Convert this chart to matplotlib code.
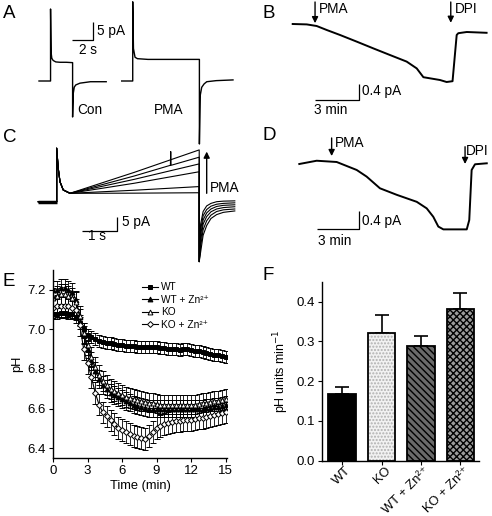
import numpy as np
import matplotlib.pyplot as plt

plt.rcParams['font.family'] = ['Liberation Sans', 'DejaVu Sans']
plt.rcParams['font.size'] = 9

W, H = 492, 516

# ---------------- data ----------------
# A: whole-cell currents (s, pA), control and PMA
a_con_t = [0, 1.1, 1.1, 1.15, 1.22, 1.35, 1.6, 2.0, 2.6, 3.2, 3.2, 3.26, 3.36, 3.5, 3.9, 4.9, 6.4]
a_con_i = [0, 0, 20, 8.0, 6.3, 5.7, 5.3, 5.2, 5.2, 5.1, -10, -3.5, -1.7, -1.1, -0.6, -0.2, -0.2]
a_pma_t = [0, 1.05, 1.05, 1.12, 1.27, 1.5, 2.5, 4, 5.5, 7.4, 7.4, 7.48, 7.62, 7.85, 8.1, 9, 10.6]
a_pma_i = [0, 0, 22, 9, 6.6, 6.2, 6.0, 6.0, 6.0, 6.0, -17.5, -4, -1.75, -0.8, -0.2, 0.1, 0.3]

# B, D: slow current recordings (min, pA)
b_t = [0, 0.95, 1.62, 2.3, 3.2, 4.32, 5.45, 6.57, 7.7, 8.38, 8.83, 9.95, 10.4, 10.8, 11.08, 11.19, 11.76, 13.1]
b_i = [0, -0.01, -0.05, -0.15, -0.275, -0.44, -0.61, -0.775, -0.94, -1.11, -1.33, -1.4, -1.45, -1.43,
       -0.275, -0.23, -0.2, -0.22]
d_t = [0, 1.24, 2.67, 4.1, 4.81, 5.76, 6.96, 8.39, 9.1, 9.57, 9.93, 10.29, 11.96, 12.14, 12.31, 12.55, 13.39]
d_i = [0, 0.07, 0.043, -0.128, -0.27, -0.52, -0.66, -0.81, -0.95, -1.13, -1.34, -1.4, -1.4, -1.2,
       -0.128, -0.006, 0.015]

# C: family of currents during PMA (s, pA)
c_on_t = [0, 0.516, 0.516, 0.56, 0.61, 0.70, 0.89]
c_on_i = [0, 0, 19.1, 11.9, 7.1, 4.2, 3.0]
c_mid_t, c_end_t = 2.7, 4.52
c_mid_i = [10.5, 9.2, 8.0, 6.6, 4.1, 3.05]
c_end_i = [18.5, 15.9, 13.5, 10.7, 5.4, 3.2]
c_tail_t = [4.52, 4.56, 4.63, 4.73, 4.85, 5.01, 5.2, 5.52]
c_tails = [
    [-21.4, -8, -3.5, -1.5, -0.6, 0, 0.2, 0.3],
    [-21.4, -10, -5, -2.8, -1.6, -0.9, -0.6, -0.4],
    [-21.4, -12, -6.5, -4.0, -2.6, -1.7, -1.3, -1.1],
    [-21.4, -14, -8, -5.3, -3.6, -2.6, -2.1, -1.8],
    [-21.4, -16, -10, -6.8, -4.8, -3.5, -2.9, -2.6],
    [-21.4, -18, -12, -8.5, -6.0, -4.6, -3.8, -3.3],
]

# E: pH time course, samples every 20 s
time_min = np.arange(46) / 3
ph_wt = [7.08, 7.08, 7.085, 7.085, 7.08, 7.08, 7.06, 7.03, 7.00, 6.97, 6.96, 6.95, 6.94, 6.935, 6.93,
         6.93, 6.925, 6.92, 6.92, 6.915, 6.915, 6.915, 6.91, 6.91, 6.91, 6.91, 6.91, 6.91, 6.905, 6.905,
         6.90, 6.90, 6.90, 6.895, 6.90, 6.90, 6.895, 6.89, 6.89, 6.885, 6.88, 6.875, 6.87, 6.87, 6.865, 6.86]
ph_wt_zn = [7.20, 7.20, 7.21, 7.21, 7.20, 7.19, 7.15, 7.06, 6.97, 6.90, 6.84, 6.79, 6.75, 6.72, 6.70,
            6.68, 6.67, 6.66, 6.65, 6.64, 6.63, 6.62, 6.615, 6.61, 6.605, 6.60, 6.60, 6.60, 6.60, 6.60,
            6.60, 6.60, 6.60, 6.60, 6.60, 6.60, 6.60, 6.60, 6.60, 6.60, 6.605, 6.605, 6.61, 6.61, 6.615, 6.62]
ph_ko = [7.16, 7.17, 7.18, 7.18, 7.17, 7.16, 7.14, 7.07, 6.98, 6.92, 6.86, 6.81, 6.77, 6.74, 6.72,
         6.70, 6.69, 6.68, 6.67, 6.66, 6.655, 6.65, 6.645, 6.64, 6.635, 6.63, 6.63, 6.625, 6.62, 6.62,
         6.62, 6.62, 6.62, 6.62, 6.62, 6.62, 6.62, 6.62, 6.625, 6.63, 6.63, 6.635, 6.64, 6.64, 6.645, 6.65]
ph_ko_zn = [7.11, 7.12, 7.12, 7.12, 7.12, 7.11, 7.10, 7.02, 6.90, 6.83, 6.76, 6.68, 6.62, 6.58, 6.56,
            6.54, 6.52, 6.50, 6.49, 6.48, 6.47, 6.46, 6.455, 6.45, 6.445, 6.46, 6.48, 6.50, 6.51, 6.52,
            6.525, 6.53, 6.535, 6.535, 6.54, 6.54, 6.54, 6.545, 6.55, 6.55, 6.555, 6.56, 6.565, 6.57, 6.575, 6.58]
err_wt, err_wt_zn, err_ko, err_ko_zn = 0.03, 0.045, 0.05, 0.055

# F: acidification rate
groups = ['WT', 'KO', 'WT + Zn²⁺', 'KO + Zn²⁺']
rates = [0.168, 0.321, 0.288, 0.381]
rate_err = [0.017, 0.046, 0.025, 0.041]


# ---------------- helpers ----------------
fig = plt.figure(figsize=(W / 100, H / 100), dpi=100)


def px_axes(x0, y0, x1, y1):
    return fig.add_axes([x0 / W, 1 - y1 / H, (x1 - x0) / W, (y1 - y0) / H])


def trace_axes(box, origin, sx, sy):
    # box in pixels, origin = pixel of (0, 0), sx/sy = pixels per unit
    x0, y0, x1, y1 = box
    ax = px_axes(x0, y0, x1, y1)
    ax.set_xlim((x0 - origin[0]) / sx, (x1 - origin[0]) / sx)
    ax.set_ylim((origin[1] - y1) / sy, (origin[1] - y0) / sy)
    ax.axis('off')
    return ax


def ftext(x, y, s, **kw):
    kw.setdefault('va', 'center')
    kw.setdefault('fontsize', 9.8)
    fig.text(x / W, 1 - y / H, s, **kw)


def scalebar(ax, x, y, dx, dy):
    ax.plot([x - dx, x, x], [y, y, y + dy], color='k', lw=0.9, solid_capstyle='butt')


def arrow(ax, tip, tail):
    ax.annotate('', xy=tip, xytext=tail,
                arrowprops=dict(arrowstyle='-|>', color='k', lw=1.0, mutation_scale=9,
                                shrinkA=0, shrinkB=0))


# ---------------- A ----------------
ax = trace_axes((30, 0, 245, 148), (39, 81), 10.5, 3.6)
ax.plot(a_con_t, a_con_i, color='k', lw=1.0)
ax.plot(np.array(a_pma_t) + 7.876, a_pma_i, color='k', lw=1.0)
scalebar(ax, 5.11, 11.47, 2, 5)
ftext(97, 31, '5 pA')
ftext(88, 50, '2 s', ha='center')
ftext(77, 110, 'Con')
ftext(154, 110.5, 'PMA')

# ---------------- B ----------------
ax = trace_axes((285, 0, 492, 125), (292.7, 24), 14.8, 40)
ax.plot(b_t, b_i, color='k', lw=1.4)
arrow(ax, (1.51, 0.02), (1.51, 0.55))
arrow(ax, (10.68, 0.03), (10.68, 0.55))
scalebar(ax, 4.5, -1.9, 3, 0.4)
ftext(319, 9, 'PMA')
ftext(455, 9, 'DPI')
ftext(362, 91, '0.4 pA')
ftext(314, 110.5, '3 min')

# ---------------- C ----------------
ax = trace_axes((30, 136, 245, 268), (38.3, 201.7), 35.6, 2.8)
ax.plot(c_on_t[:2], c_on_i[:2], color='k', lw=2.5, solid_capstyle='butt')
for k in range(6):
    tt = c_on_t + [c_mid_t, c_end_t] + c_tail_t
    ii = c_on_i + [c_mid_i[k], c_end_i[k]] + c_tails[k]
    if k == 1:
        tt = tt[:8] + [3.71, 3.72, 3.73] + tt[8:]
        ii = ii[:8] + [13.0, 17.9, 13.0] + ii[8:]
    ax.plot(tt, ii, color='k', lw=0.8)
arrow(ax, (4.73, 17.9), (4.73, 3.0))
scalebar(ax, 2.22, -10.36, 1, 5)
ftext(210, 188, 'PMA')
ftext(122, 222, '5 pA')
ftext(97.5, 236, '1 s', ha='center')

# ---------------- D ----------------
ax = trace_axes((285, 128, 492, 250), (299.3, 164), 14, 46.7)
ax.plot(d_t, d_i, color='k', lw=1.4)
arrow(ax, (2.31, 0.17), (2.31, 0.557))
arrow(ax, (11.84, 0.0), (11.84, 0.37))
scalebar(ax, 4.29, -1.4, 3, 0.4)
ftext(335, 143, 'PMA')
ftext(466, 151, 'DPI')
ftext(362, 220.5, '0.4 pA')
ftext(318, 241, '3 min')

# ---------------- E ----------------
ax = px_axes(53, 270, 227.3, 458)
series = [
    (ph_wt, err_wt, 's', 'k', 'WT'),
    (ph_wt_zn, err_wt_zn, '^', 'k', 'WT + Zn²⁺'),
    (ph_ko, err_ko, '^', 'w', 'KO'),
    (ph_ko_zn, err_ko_zn, 'D', 'w', 'KO + Zn²⁺'),
]
for vals, err, mk, mfc, lab in series:
    ax.errorbar(time_min, vals, yerr=err, color='k', lw=0.8, marker=mk, mfc=mfc, mec='k',
                ms=3.5 if mk != 'D' else 3, mew=0.7, elinewidth=0.6, capsize=2.5, capthick=0.6,
                label=lab)
ax.set_xlim(0, 15.15)
ax.set_ylim(6.35, 7.3)
ax.set_xticks([0, 3, 6, 9, 12, 15])
ax.set_yticks([6.4, 6.6, 6.8, 7.0, 7.2])
ax.set_yticklabels(['6.4', '6.6', '6.8', '7.0', '7.2'])
ax.set_xlabel('Time (min)', fontsize=9.3, labelpad=2)
ax.set_ylabel('pH', fontsize=9.3, labelpad=3)
h, l = ax.get_legend_handles_labels()
h = [x[0] for x in h]
ax.legend(h, l, loc='upper left', bbox_to_anchor=(137 / W, 1 - 277 / H), bbox_transform=fig.transFigure,
          frameon=False, fontsize=7.3, borderpad=0, handlelength=1.6, handletextpad=0.3,
          labelspacing=0.25)

# ---------------- F ----------------
ax = px_axes(321.7, 281.7, 479, 460.7)
x = np.arange(4)
faces = ['k', '#f2f2f2', '#6a6a6a', '#9a9a9a']
hatches = [None, '.....', '\\\\\\\\\\', 'xxxxx']
hcols = ['k', '#b0b0b0', 'k', 'k']
ax.errorbar(x, rates, yerr=[[0] * 4, rate_err], fmt='none', ecolor='k', elinewidth=1.2,
            capsize=5, capthick=1.2, zorder=1)
for xi, v, fc, ht, hc in zip(x, rates, faces, hatches, hcols):
    ax.bar(xi, v, width=0.7, color=fc, hatch=ht, edgecolor=hc, lw=0, zorder=2)
ax.bar(x, rates, width=0.7, fill=False, edgecolor='k', lw=1.3, zorder=3)
ax.set_xlim(-0.52, 3.47)
ax.set_ylim(0, 0.45)
ax.set_yticks([0, 0.1, 0.2, 0.3, 0.4])
ax.set_yticklabels(['0.0', '0.1', '0.2', '0.3', '0.4'])
ax.set_xticks(x)
ax.set_xticklabels([])
for xi, g in zip(x, groups):
    ax.annotate(g, xy=(xi, 0), xycoords=('data', 'axes fraction'), xytext=(7, -8),
                textcoords='offset pixels', rotation=45, ha='right', va='center',
                rotation_mode='anchor', fontsize=9.3)
ax.set_ylabel('pH units min$^{-1}$', fontsize=9, labelpad=4)

for a in fig.axes[-2:]:
    for s in ['top', 'right']:
        a.spines[s].set_visible(False)
    for s in ['left', 'bottom']:
        a.spines[s].set_linewidth(1.0)
    a.tick_params(direction='out', length=3, width=0.8, pad=2)
    a.tick_params(axis='y', labelsize=9.5)
fig.axes[-2].tick_params(axis='x', labelsize=9.5)

# panel letters
for lx, ly, lt in [(3, 13, 'A'), (263, 13, 'B'), (3, 138, 'C'), (263, 136, 'D'),
                   (3, 281, 'E'), (263, 276, 'F')]:
    ftext(lx, ly, lt, fontsize=13.5)

fig.savefig('out.png', dpi=100)
